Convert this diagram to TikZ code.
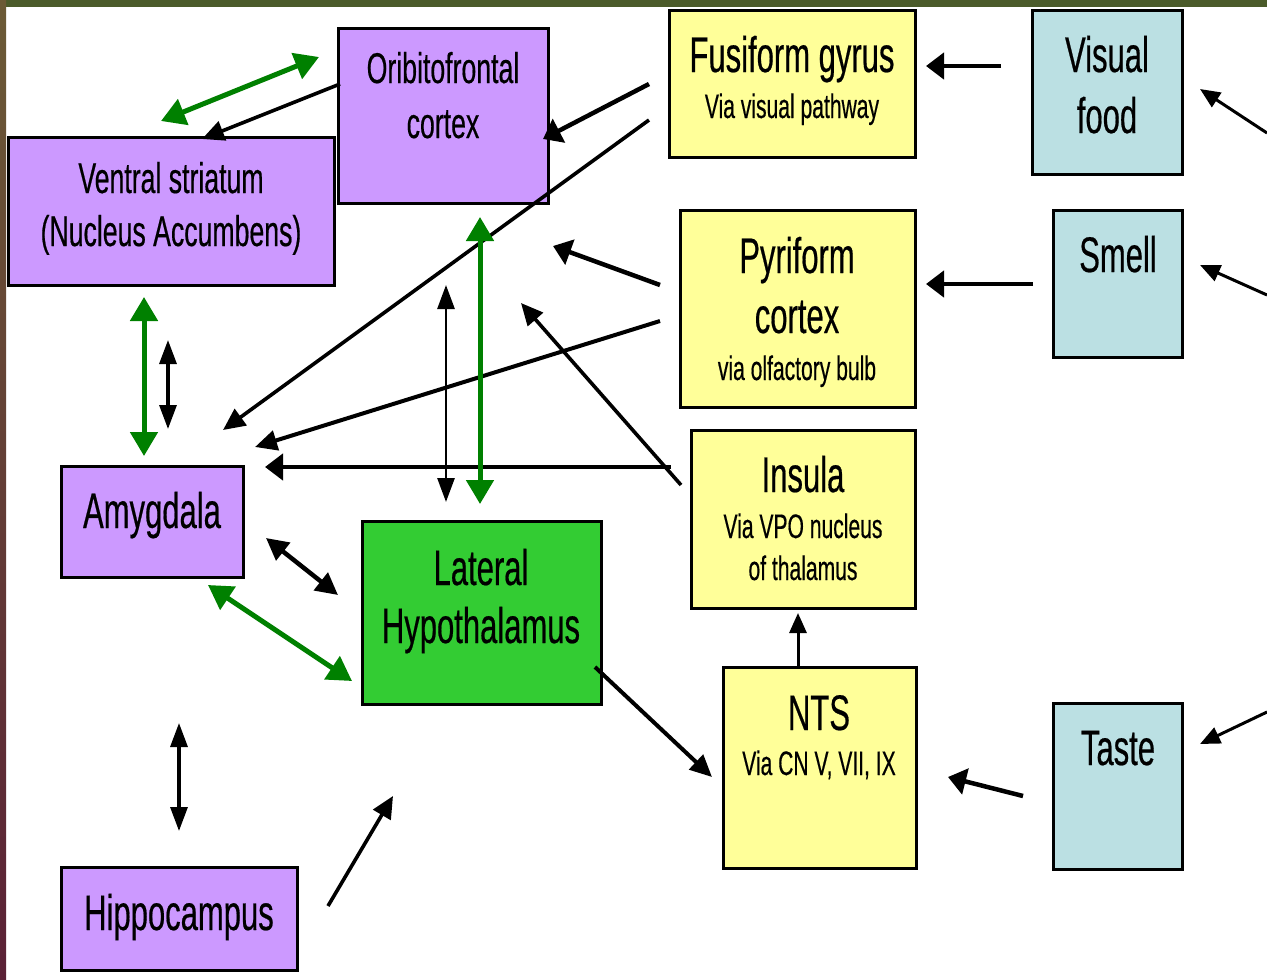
\documentclass[tikz,border=0pt]{standalone}
\usepackage{fontspec}
\setmainfont{Liberation Sans}[FakeStretch=0.62,FakeBold=0.4]
\usetikzlibrary{arrows.meta}
\definecolor{lav}{HTML}{CC99FF}
\definecolor{yel}{HTML}{FFFF99}
\definecolor{lblue}{HTML}{BBE0E3}
\definecolor{lhgreen}{HTML}{33CC33}
\definecolor{dgreen}{HTML}{008000}
\definecolor{topband}{HTML}{4B5B2A}
\definecolor{sidetop}{HTML}{6B5A35}
\definecolor{sidebot}{HTML}{5A2035}
\newcommand\bigtxt{\fontsize{50}{50}\selectfont}
\newcommand\midtxt{\fontsize{43}{43}\selectfont}
\newcommand\smltxt{\fontsize{34}{34}\selectfont}
\begin{document}
\begin{tikzpicture}[x=1pt,y=-1pt,
  box/.style={draw=black,line width=3pt,inner sep=0pt,outer sep=0pt,anchor=north west},
  lbl/.style={anchor=base,inner sep=0pt},
  blk/.style={draw=black,line width=4.5pt,-{Triangle[length=18pt,width=26pt]}},
  blkthin/.style={draw=black,line width=3.6pt,-{Triangle[length=22pt,width=20pt]}},
  blkfine/.style={draw=black,line width=3pt,-{Triangle[length=20pt,width=17pt]}},
  dbl/.style={draw=black,line width=3.2pt,{Triangle[length=24pt,width=17pt]}-{Triangle[length=24pt,width=17pt]}},
  dblthick/.style={draw=black,line width=4.5pt,{Triangle[length=22pt,width=22pt]}-{Triangle[length=22pt,width=22pt]}},
  grn/.style={draw=dgreen,line width=5pt,{Triangle[length=24pt,width=27pt]}-{Triangle[length=24pt,width=27pt]}}
]
\useasboundingbox (0,0) rectangle (1267,980);
\fill[white] (0,0) rectangle (1267,980);
\fill[topband] (0,0) rectangle (1267,7);
\shade[top color=sidetop,bottom color=sidebot] (0,0) rectangle (6,980);

% boxes
\node[box,fill=lav,minimum width=210pt,minimum height=175pt] (ofc) at (338,28) {};
\node[box,fill=lav,minimum width=326pt,minimum height=148pt] (vs) at (8,137) {};
\node[box,fill=yel,minimum width=246pt,minimum height=147pt] (fus) at (669,10) {};
\node[box,fill=lblue,minimum width=150pt,minimum height=164pt] (vis) at (1032,10) {};
\node[box,fill=yel,minimum width=235pt,minimum height=197pt] (pyr) at (680,210) {};
\node[box,fill=lblue,minimum width=129pt,minimum height=147pt] (sml) at (1053,210) {};
\node[box,fill=yel,minimum width=224pt,minimum height=178pt] (ins) at (691,430) {};
\node[box,fill=yel,minimum width=193pt,minimum height=201pt] (nts) at (723,667) {};
\node[box,fill=lblue,minimum width=129pt,minimum height=166pt] (tst) at (1053,703) {};
\node[box,fill=lav,minimum width=182pt,minimum height=111pt] (amy) at (61,466) {};
\node[box,fill=lhgreen,minimum width=239pt,minimum height=183pt] (lh) at (362,521) {};
\node[box,fill=lav,minimum width=236pt,minimum height=103pt] (hip) at (61,867) {};

% labels
\node[lbl,font=\midtxt] (ofc1) at (443,83) {Oribitofrontal};
\node[lbl,font=\midtxt] (ofc2) at (443,138) {cortex};
\node[lbl,font=\midtxt] (vs1) at (171,193) {Ventral striatum};
\node[lbl,font=\midtxt] (vs2) at (171,246) {(Nucleus Accumbens)};
\node[lbl,font=\bigtxt] (fus1) at (792,72) {Fusiform gyrus};
\node[lbl,font=\smltxt] (fus2) at (792,118) {Via visual pathway};
\node[lbl,font=\bigtxt] (vis1) at (1107,72) {Visual};
\node[lbl,font=\bigtxt] (vis2) at (1107,133) {food};
\node[lbl,font=\bigtxt] (sml1) at (1118,272) {Smell};
\node[lbl,font=\bigtxt] (pyr1) at (797,273) {Pyriform};
\node[lbl,font=\bigtxt] (pyr2) at (797,333) {cortex};
\node[lbl,font=\smltxt] (pyr3) at (797,380) {via olfactory bulb};
\node[lbl,font=\bigtxt] (ins1) at (803,492) {Insula};
\node[lbl,font=\smltxt] (ins2) at (803,538) {Via VPO nucleus};
\node[lbl,font=\smltxt] (ins3) at (803,580) {of thalamus};
\node[lbl,font=\bigtxt] (nts1) at (819,730) {NTS};
\node[lbl,font=\smltxt] (nts2) at (819,775) {Via CN V, VII, IX};
\node[lbl,font=\bigtxt] (tst1) at (1118,765) {Taste};
\node[lbl,font=\bigtxt] (amy1) at (152,528) {Amygdala};
\node[lbl,font=\bigtxt] (lh1) at (481,585) {Lateral};
\node[lbl,font=\bigtxt] (lh2) at (481,643) {Hypothalamus};
\node[lbl,font=\bigtxt] (hip1) at (179,930) {Hippocampus};

% connector end points
\coordinate (a1s) at (340,84);   \coordinate (a1e) at (202,139);
\coordinate (a2s) at (161,121);  \coordinate (a2e) at (319,57);
\coordinate (a3s) at (649,84);   \coordinate (a3e) at (543,139);
\coordinate (a4s) at (649,120);  \coordinate (a4e) at (223,430);
\coordinate (a5s) at (1001,66);  \coordinate (a5e) at (926,66);
\coordinate (a6s) at (1267,133); \coordinate (a6e) at (1200,89);
\coordinate (a7s) at (1033,284); \coordinate (a7e) at (926,284);
\coordinate (a8s) at (1267,295); \coordinate (a8e) at (1200,265);
\coordinate (a9s) at (660,285);  \coordinate (a9e) at (553,246);
\coordinate (a10s) at (660,321); \coordinate (a10e) at (255,447);
\coordinate (a11s) at (681,485); \coordinate (a11e) at (521,303);
\coordinate (a12s) at (671,467); \coordinate (a12e) at (265,467);
\coordinate (a13s) at (446,285); \coordinate (a13e) at (446,502);
\coordinate (a14s) at (480,217); \coordinate (a14e) at (480,504);
\coordinate (a15s) at (144,297); \coordinate (a15e) at (144,456);
\coordinate (a16s) at (168,340); \coordinate (a16e) at (168,429);
\coordinate (a17s) at (266,538); \coordinate (a17e) at (338,595);
\coordinate (a18s) at (208,585); \coordinate (a18e) at (352,681);
\coordinate (a19s) at (179,723); \coordinate (a19e) at (179,831);
\coordinate (a20s) at (328,906); \coordinate (a20e) at (393,796);
\coordinate (a21s) at (798,668); \coordinate (a21e) at (798,613);
\coordinate (a22s) at (595,667); \coordinate (a22e) at (712,777);
\coordinate (a23s) at (1023,796); \coordinate (a23e) at (948,777);
\coordinate (a24s) at (1267,712); \coordinate (a24e) at (1200,744);

% connectors
\draw[blkthin] (a1s) -- (a1e);
\draw[blk] (a3s) -- (a3e);
\draw[blkthin] (a4s) -- (a4e);
\draw[blk] (a5s) -- (a5e);
\draw[blkfine] (a6s) -- (a6e);
\draw[blk] (a7s) -- (a7e);
\draw[blkfine] (a8s) -- (a8e);
\draw[blk] (a9s) -- (a9e);
\draw[blkthin,line width=4pt] (a10s) -- (a10e);
\draw[blkthin] (a11s) -- (a11e);
\draw[blk] (a12s) -- (a12e);
\draw[dbl,line width=2.8pt] (a13s) -- (a13e);
\draw[dbl] (a16s) -- (a16e);
\draw[dblthick] (a17s) -- (a17e);
\draw[dbl] (a19s) -- (a19e);
\draw[blkthin] (a20s) -- (a20e);
\draw[blkfine] (a21s) -- (a21e);
\draw[blkthin,line width=4pt] (a22s) -- (a22e);
\draw[blk] (a23s) -- (a23e);
\draw[blkfine] (a24s) -- (a24e);
\draw[grn] (a2s) -- (a2e);
\draw[grn] (a14s) -- (a14e);
\draw[grn] (a15s) -- (a15e);
\draw[grn] (a18s) -- (a18e);
\end{tikzpicture}
\end{document}
